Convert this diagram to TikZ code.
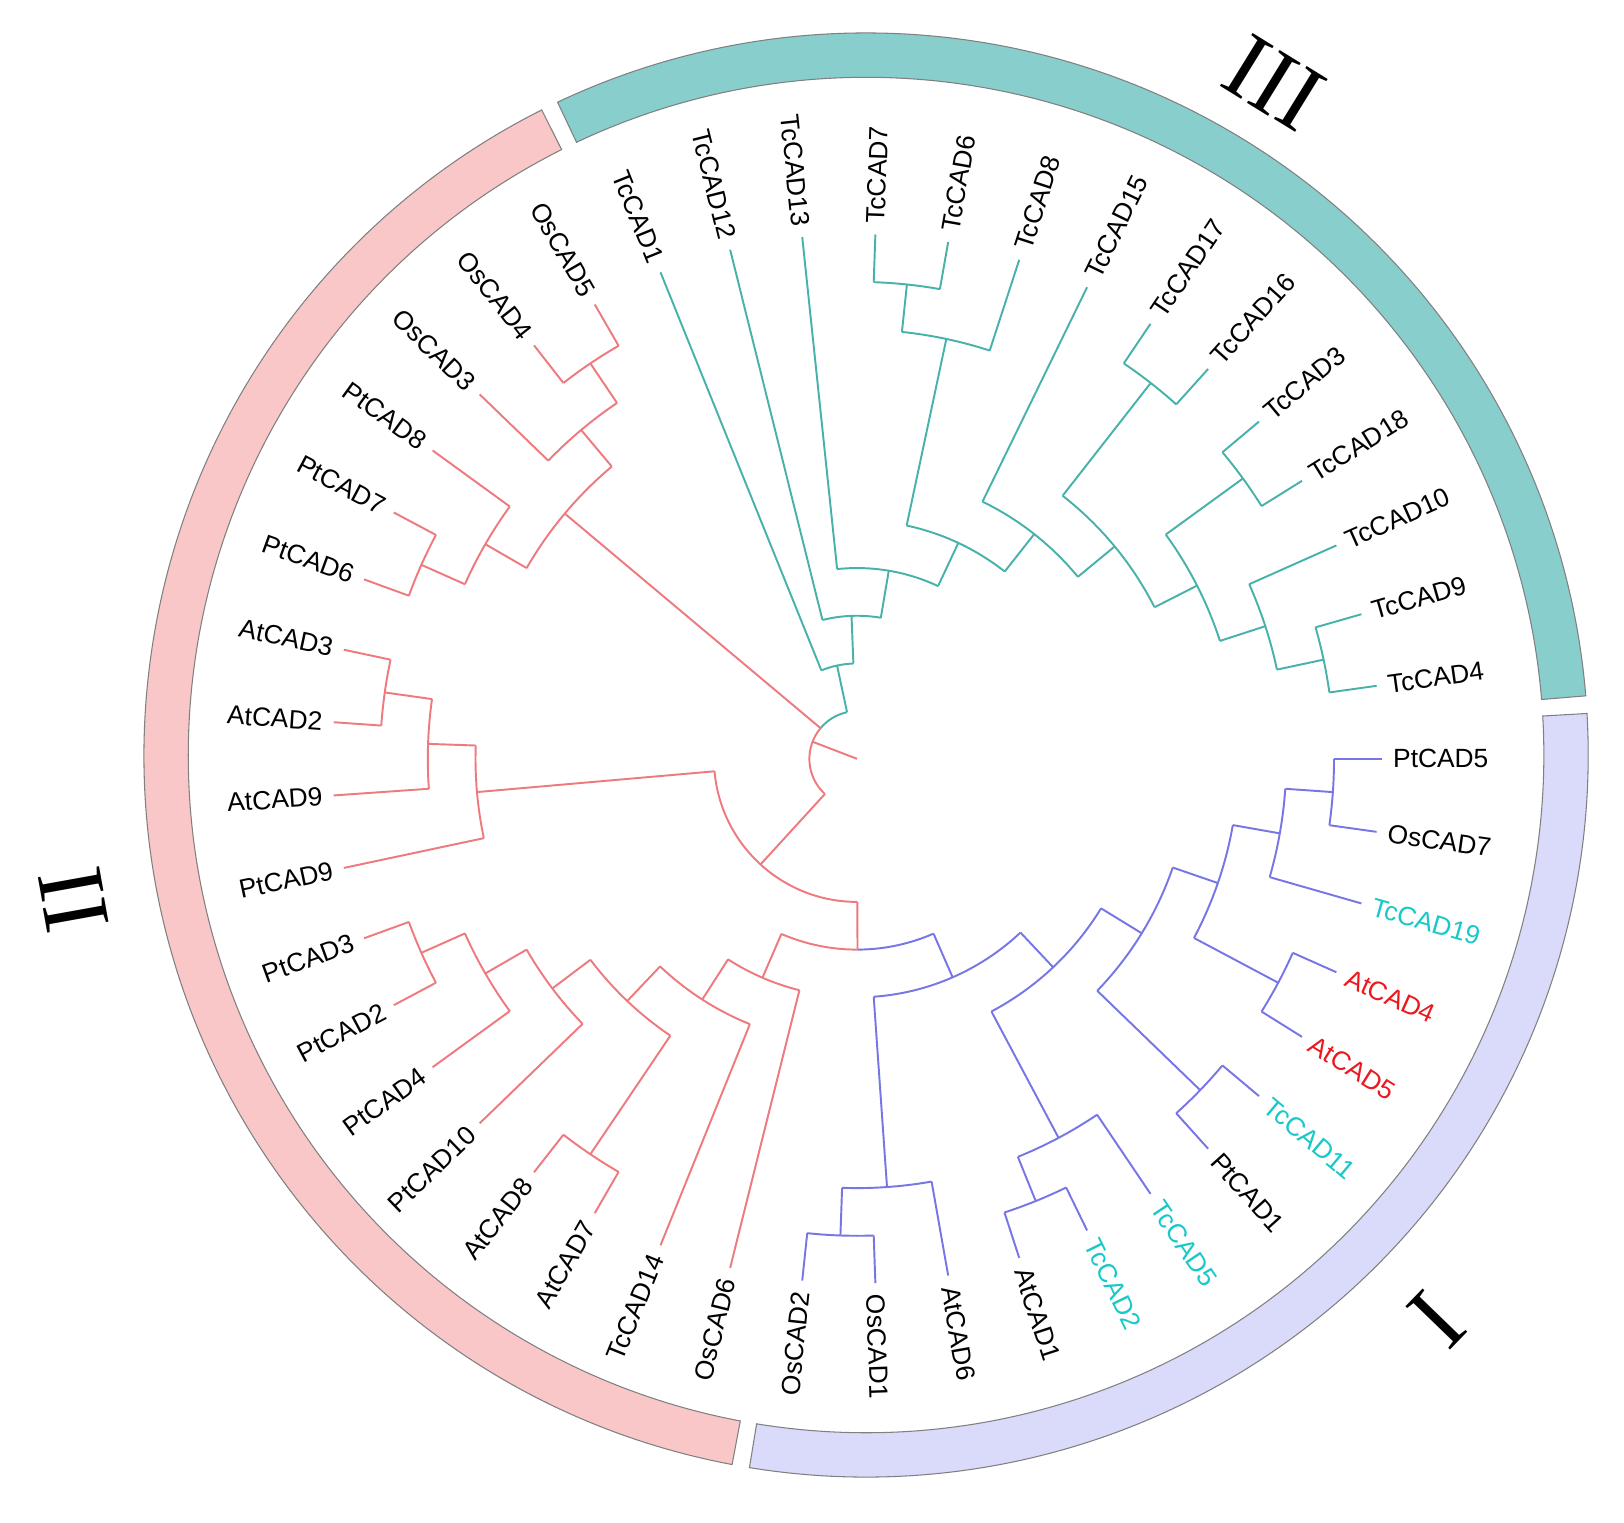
\documentclass[tikz,border=0pt]{standalone}
\usepackage{fontspec}
\setmainfont{Liberation Sans}
\newfontfamily\numfont{Liberation Serif}
\usetikzlibrary{calc}

\definecolor{cladeI}{RGB}{118,118,228}
\definecolor{cladeII}{RGB}{238,122,126}
\definecolor{cladeIII}{RGB}{72,178,170}
\definecolor{bandI}{RGB}{218,218,250}
\definecolor{bandII}{RGB}{249,199,199}
\definecolor{bandIII}{RGB}{136,206,205}
\definecolor{tcyan}{RGB}{25,200,200}
\definecolor{tred}{RGB}{235,25,30}

\tikzset{
  leaf/.style={inner sep=0pt, font=\fontsize{7.5}{9}\selectfont},
  numeral/.style={inner sep=0pt, font=\numfont\fontsize{27}{30}\selectfont},
  band/.style={draw=black!50, line width=0.3pt},
}

% radial branch from a named node down to the level of its parent
\newcommand{\stem}[3]{\draw[#1] let \p1=(#2), \n1={atan2(\y1,\x1)} in (#2) -- (\n1:#3);}
% arc of an inner node, and its named point in the middle
\newcommand{\clade}[5]{%
  \draw[#1] (#4:#3) arc[start angle=#4, end angle=#5, radius=#3];
  \coordinate (#2) at ({(#4+#5)/2}:#3);}

\begin{document}
\begin{tikzpicture}[scale=0.477, line width=0.55pt]
\path[use as bounding box, fill=white] (-17.97,-16.02) rectangle (16.08,15.91);

% outer bands
\def\bin{14.21}
\def\bout{15.14}
\begin{scope}[shift={(0.19,0.08)}]
\filldraw[band, fill=bandIII] (4.7:\bin) arc[start angle=4.7, end angle=115.3, radius=\bin] -- (115.3:\bout) arc[start angle=115.3, end angle=4.7, radius=\bout] -- cycle;
\filldraw[band, fill=bandII] (116.7:\bin) arc[start angle=116.7, end angle=259.3, radius=\bin] -- (259.3:\bout) arc[start angle=259.3, end angle=116.7, radius=\bout] -- cycle;
\filldraw[band, fill=bandI] (260.7:\bin) arc[start angle=260.7, end angle=363.3, radius=\bin] -- (363.3:\bout) arc[start angle=363.3, end angle=260.7, radius=\bout] -- cycle;
\end{scope}

\node[numeral, rotate=-31.7] (numIII) at (8.74,14.17) {III};
\node[numeral, rotate=100.2] (numII) at (-16.43,-2.96) {II};
\node[numeral, rotate=-134.06] (numI) at (12.15,-11.76) {I};

% leaves
\foreach \lab/\ang/\lev/\bc/\tc in {
  PtCAD5/0/10/cladeI/black, OsCAD7/-8/10/cladeI/black, TcCAD19/-16/9/cladeI/tcyan,
  AtCAD4/-24/10/cladeI/tred, AtCAD5/-32/10/cladeI/tred, TcCAD11/-40/10/cladeI/tcyan,
  PtCAD1/-48/10/cladeI/black, TcCAD5/-56/9/cladeI/tcyan, TcCAD2/-64/10/cladeI/tcyan,
  AtCAD1/-72/10/cladeI/black, AtCAD6/-80/9/cladeI/black, OsCAD1/-88/10/cladeI/black,
  OsCAD2/-96/10/cladeI/black,
  OsCAD6/256/5/cladeII/black, TcCAD14/248/6/cladeII/black, AtCAD7/240/10/cladeII/black,
  AtCAD8/232/10/cladeII/black, PtCAD10/224/8/cladeII/black, PtCAD4/216/9/cladeII/black,
  PtCAD2/208/10/cladeII/black, PtCAD3/200/10/cladeII/black, PtCAD9/192/8/cladeII/black,
  AtCAD9/184/9/cladeII/black, AtCAD2/176/10/cladeII/black, AtCAD3/168/10/cladeII/black,
  PtCAD6/160/10/cladeII/black, PtCAD7/152/10/cladeII/black, PtCAD8/144/9/cladeII/black,
  OsCAD3/136/9/cladeII/black, OsCAD4/128/10/cladeII/black, OsCAD5/120/10/cladeII/black,
  TcCAD1/112/2/cladeIII/black, TcCAD12/104/3/cladeIII/black, TcCAD13/96/4/cladeIII/black,
  TcCAD7/88/10/cladeIII/black, TcCAD6/80/10/cladeIII/black, TcCAD8/72/9/cladeIII/black,
  TcCAD15/64/6/cladeIII/black, TcCAD17/56/10/cladeIII/black, TcCAD16/48/10/cladeIII/black,
  TcCAD3/40/10/cladeIII/black, TcCAD18/32/10/cladeIII/black, TcCAD10/24/9/cladeIII/black,
  TcCAD9/16/10/cladeIII/black, TcCAD4/8/10/cladeIII/black}{
  \coordinate (\lab) at (\ang:11);
  \stem{\bc}{\lab}{\lev}
  \pgfmathparse{cos(\ang)}
  \ifdim\pgfmathresult pt<0pt
    \node[leaf, text=\tc, anchor=east, rotate=\ang+180] (lab-\lab) at (\ang:11.22) {\lab};
  \else
    \node[leaf, text=\tc, anchor=west, rotate=\ang] (lab-\lab) at (\ang:11.22) {\lab};
  \fi
}

% clade I
\clade{cladeI}{A1}{10}{0}{-8}        \stem{cladeI}{A1}{9}
\clade{cladeI}{A2}{9}{-4}{-16}       \stem{cladeI}{A2}{8}
\clade{cladeI}{A3}{10}{-24}{-32}     \stem{cladeI}{A3}{8}
\clade{cladeI}{A4}{8}{-10}{-28}      \stem{cladeI}{A4}{7}
\clade{cladeI}{A6}{10}{-40}{-48}     \stem{cladeI}{A6}{7}
\clade{cladeI}{A5}{7}{-19}{-44}      \stem{cladeI}{A5}{6}
\clade{cladeI}{Z}{10}{-64}{-72}      \stem{cladeI}{Z}{9}
\clade{cladeI}{Y}{9}{-56}{-68}       \stem{cladeI}{Y}{6}
\clade{cladeI}{A7}{6}{-31.5}{-62}    \stem{cladeI}{A7}{5}
\clade{cladeI}{V}{10}{-88}{-96}      \stem{cladeI}{V}{9}
\clade{cladeI}{W}{9}{-80}{-92}       \stem{cladeI}{W}{5}
\clade{cladeI}{B2}{5}{-46.75}{-86}   \stem{cladeI}{B2}{4}

% clade II
\clade{cladeII}{p32}{10}{200}{208}     \stem{cladeII}{p32}{9}
\clade{cladeII}{p324}{9}{204}{216}     \stem{cladeII}{p324}{8}
\clade{cladeII}{p3241}{8}{210}{224}    \stem{cladeII}{p3241}{7}
\clade{cladeII}{a87}{10}{232}{240}     \stem{cladeII}{a87}{7}
\clade{cladeII}{q1}{7}{217}{236}       \stem{cladeII}{q1}{6}
\clade{cladeII}{q2}{6}{226.5}{248}     \stem{cladeII}{q2}{5}
\clade{cladeII}{R1}{5}{237.25}{256}    \stem{cladeII}{R1}{4}
\draw[cladeII] (246.625:4) arc[start angle=246.625, end angle=270.125, radius=4];
\draw[cladeI] (270.125:4) arc[start angle=270.125, end angle=293.625, radius=4];
\coordinate (B1) at (270.125:4);     \stem{cladeII}{B1}{3}
\clade{cladeII}{a32}{10}{168}{176}     \stem{cladeII}{a32}{9}
\clade{cladeII}{a329}{9}{172}{184}     \stem{cladeII}{a329}{8}
\clade{cladeII}{a3299}{8}{178}{192}    \stem{cladeII}{a3299}{3}
\clade{cladeII}{Rbig}{3}{185}{270.125} \stem{cladeII}{Rbig}{1}
\clade{cladeII}{o54}{10}{120}{128}     \stem{cladeII}{o54}{9}
\clade{cladeII}{o345}{9}{124}{136}     \stem{cladeII}{o345}{8}
\clade{cladeII}{p76}{10}{152}{160}     \stem{cladeII}{p76}{9}
\clade{cladeII}{p768}{9}{144}{156}     \stem{cladeII}{p768}{8}
\clade{cladeII}{Rtop}{8}{130}{150}     \stem{cladeII}{Rtop}{1}

% clade III
\clade{cladeIII}{c76}{10}{80}{88}        \stem{cladeIII}{c76}{9}
\clade{cladeIII}{c768}{9}{72}{84}        \stem{cladeIII}{c768}{5}
\clade{cladeIII}{c1716}{10}{48}{56}      \stem{cladeIII}{c1716}{7}
\clade{cladeIII}{c318}{10}{32}{40}       \stem{cladeIII}{c318}{8}
\clade{cladeIII}{c94}{10}{8}{16}         \stem{cladeIII}{c94}{9}
\clade{cladeIII}{c1094}{9}{12}{24}       \stem{cladeIII}{c1094}{8}
\clade{cladeIII}{cX}{8}{18}{36}          \stem{cladeIII}{cX}{7}
\clade{cladeIII}{cY}{7}{27}{52}          \stem{cladeIII}{cY}{6}
\clade{cladeIII}{cZ}{6}{39.5}{64}        \stem{cladeIII}{cZ}{5}
\clade{cladeIII}{T4}{5}{51.75}{78}       \stem{cladeIII}{T4}{4}
\clade{cladeIII}{T3}{4}{64.875}{96}      \stem{cladeIII}{T3}{3}
\clade{cladeIII}{T2}{3}{80.4375}{104}    \stem{cladeIII}{T2}{2}
\clade{cladeIII}{Troot}{2}{92.21875}{112} \stem{cladeIII}{Troot}{1}

% root
\draw[cladeIII] (102.11:1) arc[start angle=102.11, end angle=140, radius=1];
\draw[cladeII] (140:1) arc[start angle=140, end angle=227.56, radius=1];
\coordinate (ctr) at (0,0);
\coordinate (root) at (159:1);
\draw[cladeII] (ctr) -- (root);
\end{tikzpicture}
\end{document}
